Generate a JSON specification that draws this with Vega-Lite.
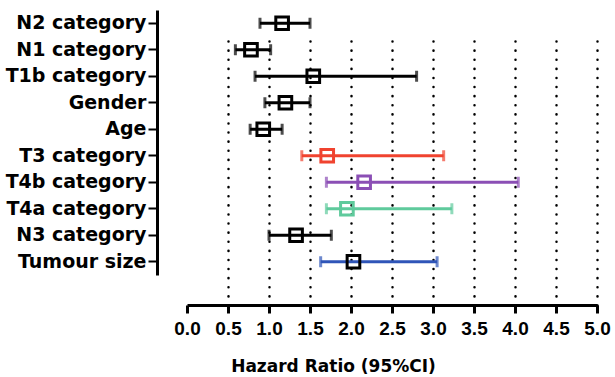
{
  "$schema": "https://vega.github.io/schema/vega-lite/v6.json",
  "width": 410,
  "height": 295,
  "autosize": "none",
  "padding": {"left": 187, "top": 10, "right": 18, "bottom": 72},
  "background": "white",
  "config": {"view": {"stroke": null}, "font": "Liberation Sans"},
  "data": {"values": [
    {"var": "N2 category", "hr": 1.16, "lo": 0.89, "hi": 1.50},
    {"var": "N1 category", "hr": 0.78, "lo": 0.59, "hi": 1.02},
    {"var": "T1b category", "hr": 1.54, "lo": 0.83, "hi": 2.80},
    {"var": "Gender", "hr": 1.20, "lo": 0.95, "hi": 1.50},
    {"var": "Age", "hr": 0.93, "lo": 0.77, "hi": 1.16},
    {"var": "T3 category", "hr": 1.71, "lo": 1.40, "hi": 3.13},
    {"var": "T4b category", "hr": 2.16, "lo": 1.70, "hi": 4.04},
    {"var": "T4a category", "hr": 1.95, "lo": 1.70, "hi": 3.23},
    {"var": "N3 category", "hr": 1.33, "lo": 1.00, "hi": 1.76},
    {"var": "Tumour size", "hr": 2.03, "lo": 1.63, "hi": 3.05}
  ]},
  "encoding": {
    "y": {
      "field": "var", "type": "nominal", "sort": null,
      "scale": {"range": [0, 265], "paddingInner": 0, "paddingOuter": 0},
      "axis": {
        "title": null, "offset": 30, "domainColor": "black", "domainWidth": 3,
        "tickColor": "black", "tickWidth": 2, "tickSize": 9,
        "labelFont": "DejaVu Sans", "labelFontWeight": "bold", "labelFontSize": 19,
        "labelColor": "black", "labelPadding": 2
      }
    }
  },
  "layer": [
    {
      "mark": {"type": "rule", "strokeWidth": 3},
      "encoding": {
        "x": {
          "field": "lo", "type": "quantitative",
          "scale": {"domain": [0, 5], "nice": false},
          "axis": {
            "values": [0, 0.5, 1, 1.5, 2, 2.5, 3, 3.5, 4, 4.5, 5],
            "format": ".1f", "labelFlush": false, "labelOverlap": false,
            "title": "Hazard Ratio (95%CI)",
            "titleFont": "DejaVu Sans", "titleFontWeight": "bold", "titleFontSize": 17,
            "titleColor": "black", "titleAnchor": "start", "titleAlign": "center",
            "titleX": 146, "titleY": 66, "titleBaseline": "alphabetic",
            "labelFont": "Liberation Sans", "labelFontWeight": "bold", "labelFontSize": 19,
            "labelColor": "black", "labelPadding": 6,
            "domainColor": "black", "domainWidth": 3,
            "tickColor": "black", "tickWidth": 3, "tickSize": 8,
            "grid": true, "gridColor": "black", "gridWidth": 2.5,
            "gridDash": [0.1, 9], "gridCap": "round",
            "gridOpacity": {"condition": {"test": "datum.value == 0", "value": 0}, "value": 1}
          }
        },
        "x2": {"field": "hi"},
        "color": {
          "field": "var", "type": "nominal", "legend": null,
          "scale": {
            "domain": ["N2 category", "N1 category", "T1b category", "Gender", "Age", "T3 category", "T4b category", "T4a category", "N3 category", "Tumour size"],
            "range": ["#000000", "#000000", "#000000", "#000000", "#000000", "#f0432f", "#8b4fb5", "#5fca9c", "#000000", "#2f55b8"]
          }
        }
      }
    },
    {
      "mark": {"type": "tick", "thickness": 3, "size": 11},
      "encoding": {
        "x": {"field": "lo", "type": "quantitative"},
        "color": {"field": "var", "type": "nominal", "legend": null}
      }
    },
    {
      "mark": {"type": "tick", "thickness": 3, "size": 11},
      "encoding": {
        "x": {"field": "hi", "type": "quantitative"},
        "color": {"field": "var", "type": "nominal", "legend": null}
      }
    },
    {
      "mark": {"type": "point", "shape": "square", "filled": false, "strokeWidth": 3, "opacity": 1},
      "encoding": {
        "x": {"field": "hr", "type": "quantitative"},
        "stroke": {
          "field": "var", "type": "nominal", "legend": null,
          "scale": {
            "domain": ["N2 category", "N1 category", "T1b category", "Gender", "Age", "T3 category", "T4b category", "T4a category", "N3 category", "Tumour size"],
            "range": ["#000000", "#000000", "#000000", "#000000", "#000000", "#f0432f", "#8b4fb5", "#5fca9c", "#000000", "#000000"]
          }
        },
        "size": {
          "field": "var", "type": "nominal", "legend": null,
          "scale": {
            "domain": ["N2 category", "N1 category", "T1b category", "Gender", "Age", "T3 category", "T4b category", "T4a category", "N3 category", "Tumour size"],
            "range": [160, 160, 160, 160, 160, 170, 330, 280, 250, 170]
          }
        }
      }
    }
  ]
}
